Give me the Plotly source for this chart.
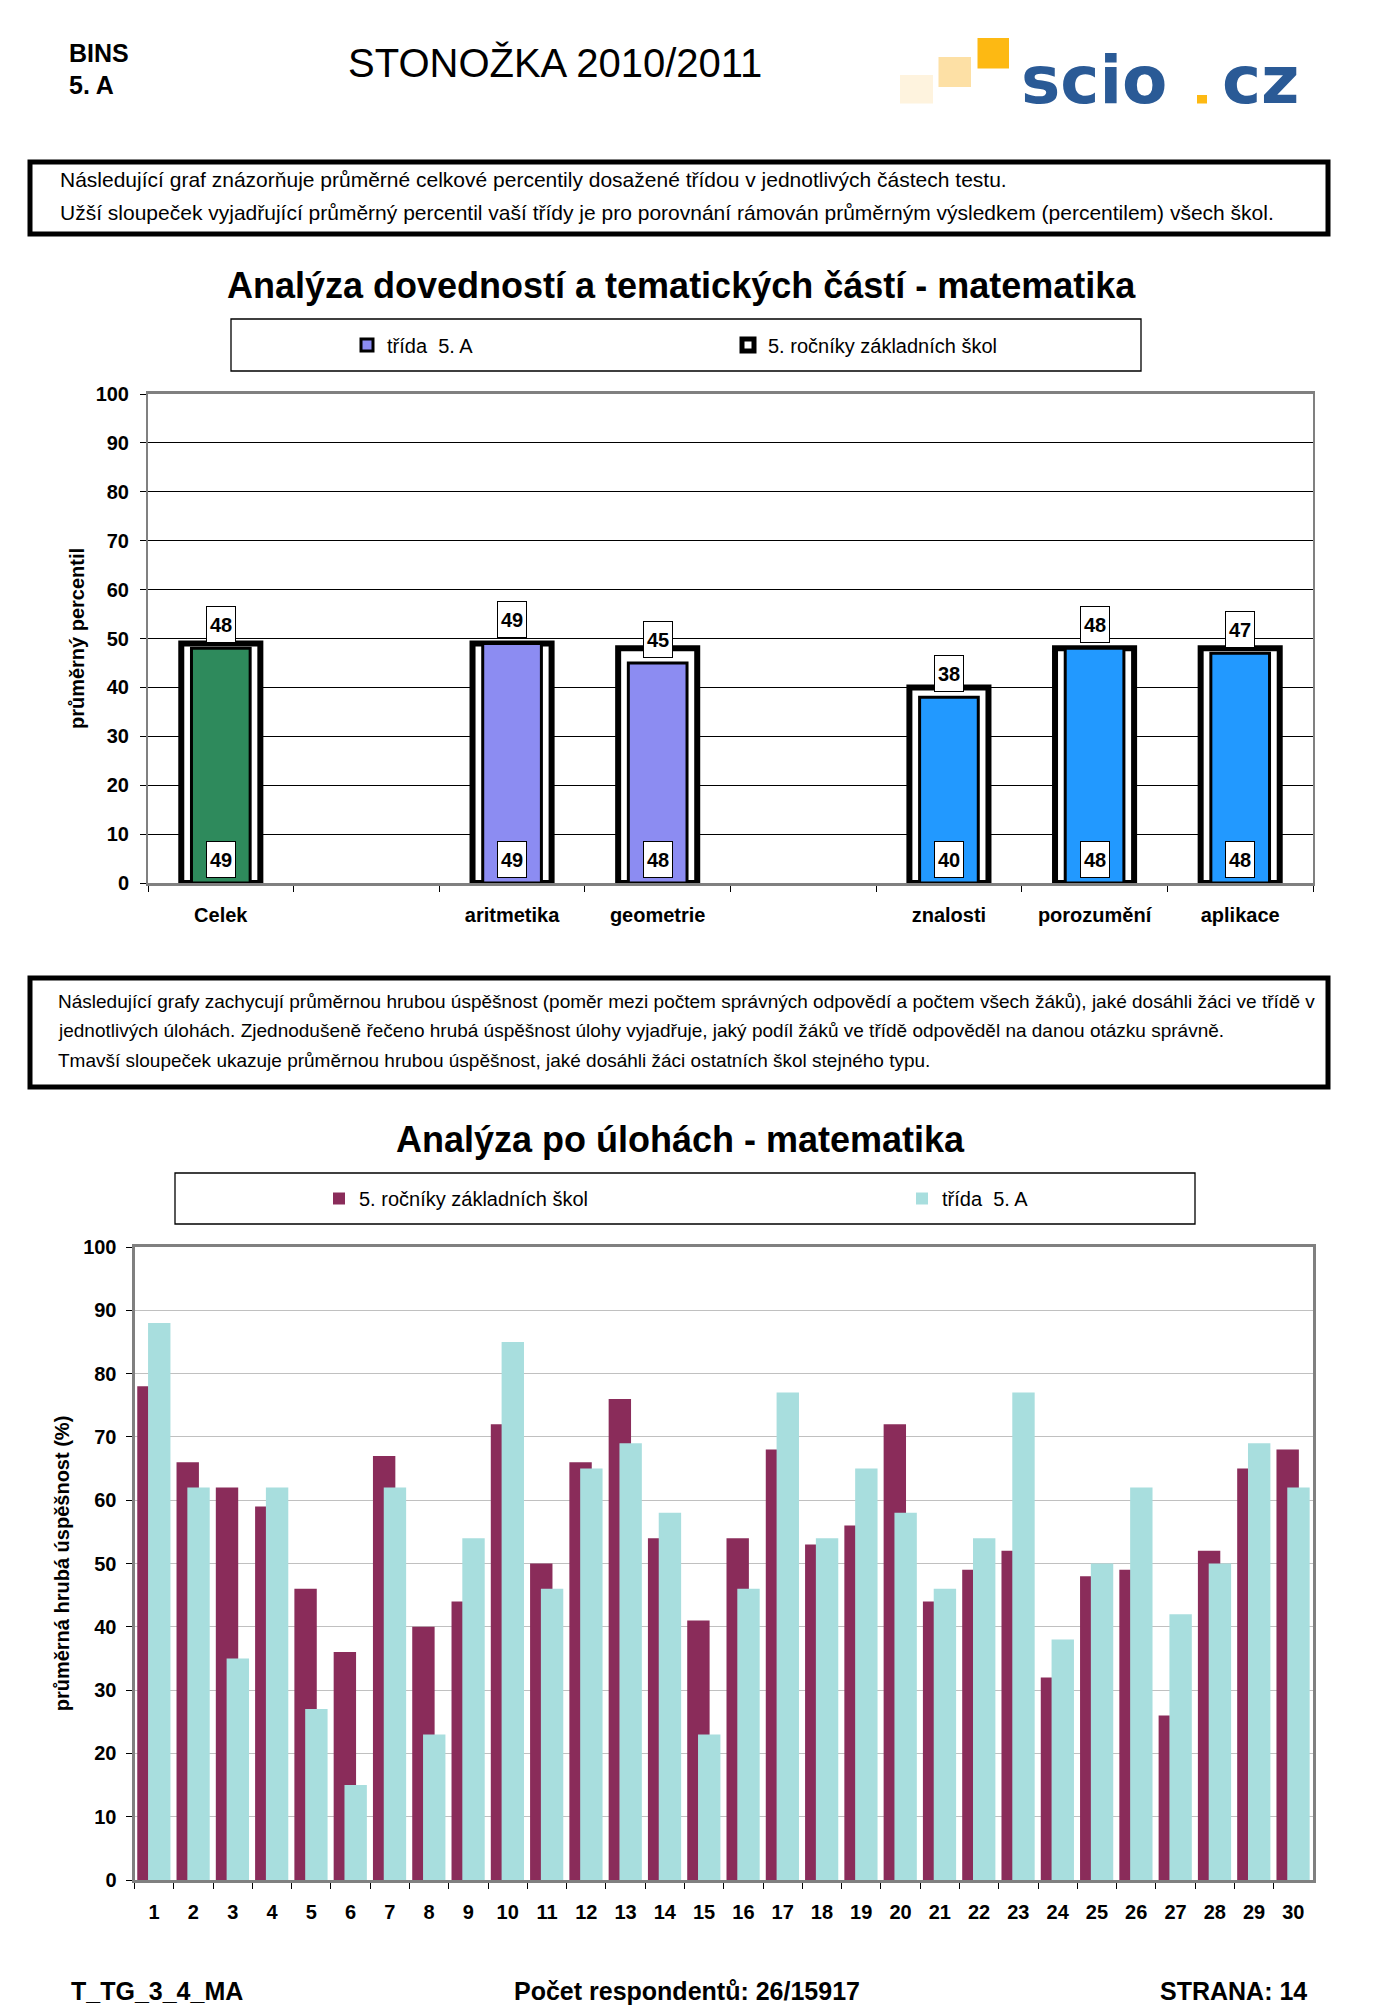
import plotly.graph_objects as go

W, H = 1396, 2016


def px(x):
    return x / W


def py(y):
    return 1 - y / H


# ---------------- data: chart 1 (skills) ----------------
skill_categories = ["Celek", " ", "aritmetika", "geometrie", "  ", "znalosti", "porozumění", "aplikace"]
class_percentile = [48, None, 49, 45, None, 38, 48, 47]
schools_percentile = [49, None, 49, 48, None, 40, 48, 48]
skill_colors = ["#2E8A5C", "#8C8CF2", "#8C8CF2", "#8C8CF2", "#8C8CF2", "#2299FF", "#2299FF", "#2299FF"]

# ---------------- data: chart 2 (tasks) ----------------
task_labels = ["1", "2", "3", "4", "5", "6", "7", "8", "9", "10",
               "11", "12", "13", "14", "15", "16", "17", "18", "19", "20",
               "21", "22", "23", "24", "25", "26", "27", "28", "29", "30"]
schools_success = [78, 66, 62, 59, 46, 36, 67, 40, 44, 72, 50, 66, 76, 54, 41,
                   54, 68, 53, 56, 72, 44, 49, 52, 32, 48, 49, 26, 52, 65, 68]
class_success = [88, 62, 35, 62, 27, 15, 62, 23, 54, 85, 46, 65, 69, 58, 23,
                 46, 77, 54, 65, 58, 46, 54, 77, 38, 50, 62, 42, 50, 69, 62]

name_class = "třída\u00a0 5. A"
name_schools = "5. ročníky základních škol"

FONT = "Liberation Sans, Arial, sans-serif"

fig = go.Figure()

# chart 1: outer frames (all schools)
fig.add_trace(go.Bar(
    x=skill_categories, y=schools_percentile, name=name_schools,
    width=0.543, marker=dict(color="white", line=dict(color="black", width=6)),
    xaxis="x", yaxis="y", legend="legend", legendrank=2,
))
# chart 1: inner bars (class) - overall
fig.add_trace(go.Bar(
    x=skill_categories[:1], y=class_percentile[:1], name=name_class,
    width=0.403, marker=dict(color=skill_colors[:1], line=dict(color="black", width=3)),
    xaxis="x", yaxis="y", legend="legend", showlegend=False, legendgroup="cls",
))
# chart 1: inner bars (class) - parts
fig.add_trace(go.Bar(
    x=skill_categories[1:], y=class_percentile[1:], name=name_class,
    width=0.403, marker=dict(color=skill_colors[1:], line=dict(color="black", width=3)),
    xaxis="x", yaxis="y", legend="legend", legendrank=1, legendgroup="cls",
))

# chart 2
fig.add_trace(go.Bar(
    x=task_labels, y=schools_success, name=name_schools,
    width=0.57, offset=-0.43, marker=dict(color="#8A2C5A", line=dict(width=0)),
    xaxis="x2", yaxis="y2", legend="legend2",
))
fig.add_trace(go.Bar(
    x=task_labels, y=class_success, name=name_class,
    width=0.57, offset=-0.155, marker=dict(color="#A8DEDE", line=dict(width=0)),
    xaxis="x2", yaxis="y2", legend="legend2",
))

annotations = []
shapes = []

# value labels chart 1
for cat, v_cls, v_sch in zip(skill_categories, class_percentile, schools_percentile):
    if v_cls is None:
        continue
    common = dict(xref="x", yref="y", showarrow=False, yanchor="bottom", yshift=5,
                  bgcolor="white", bordercolor="black", borderwidth=1, borderpad=1,
                  width=26, height=33, font=dict(family=FONT, size=20, color="black", weight="bold"))
    annotations.append(dict(x=cat, y=v_cls, text=str(v_cls), **common))
    annotations.append(dict(x=cat, y=0, text=str(v_sch), **common))


def txt(x, y, text, size, anchor="left", bold=False, family=FONT, color="black"):
    annotations.append(dict(
        xref="paper", yref="paper", x=px(x), y=py(y), text=text, showarrow=False,
        xanchor=anchor, yanchor="middle",
        font=dict(family=family, size=size, color=color, weight="bold" if bold else "normal"),
    ))


def rect(x0, y0, x1, y1, lw=1, color="black", fill=None):
    shapes.append(dict(
        type="rect", xref="paper", yref="paper", x0=px(x0), x1=px(x1), y0=py(y1), y1=py(y0),
        line=dict(color=color, width=lw), fillcolor=fill, layer="above",
    ))


# header
txt(67, 53, "BINS", 25, bold=True)
txt(67, 84.5, "5. A", 25, bold=True)
txt(555, 63, "STONOŽKA 2010/2011", 40, anchor="center")
# logo
rect(900, 75, 933, 103.5, lw=0, fill="#FEF3DE")
rect(938.5, 57, 971, 87, lw=0, fill="#FDE0A5")
rect(977.5, 38, 1009, 68.5, lw=0, fill="#FDB913")
rect(1197, 95, 1207, 103.5, lw=0, fill="#FDB913")
txt(1019, 81, "scio", 66, bold=True, family="DejaVu Sans, sans-serif", color="#2A5A96")
txt(1261, 81, "cz", 66, anchor="center", bold=True, family="DejaVu Sans, sans-serif", color="#2A5A96")

# text box 1
rect(30, 162, 1328, 234, lw=5)
txt(58, 179, "Následující graf znázorňuje průměrné celkové percentily dosažené třídou v jednotlivých částech testu.", 21)
txt(58, 213, "Užší sloupeček vyjadřující průměrný percentil vaší třídy je pro porovnání rámován průměrným výsledkem (percentilem) všech škol.", 21)

# chart 1 title + legend frame
txt(681, 286, "Analýza dovedností a tematických částí - matematika", 36, anchor="center", bold=True)
rect(231, 319, 1141, 371, lw=1.3)

# text box 2
rect(30, 978, 1328, 1087, lw=5)
txt(56, 1001, "Následující grafy zachycují průměrnou hrubou úspěšnost (poměr mezi počtem správných odpovědí a počtem všech žáků), jaké dosáhli žáci ve třídě v", 19)
txt(56, 1030.5, "jednotlivých úlohách. Zjednodušeně řečeno hrubá úspěšnost úlohy vyjadřuje, jaký podíl žáků ve třídě odpověděl na danou otázku správně.", 19)
txt(56, 1060, "Tmavší sloupeček ukazuje průměrnou hrubou úspěšnost, jaké dosáhli žáci ostatních škol stejného typu.", 19)

# chart 2 title + legend frame
txt(680, 1139, "Analýza po úlohách - matematika", 36, anchor="center", bold=True)
rect(175, 1173, 1195, 1224, lw=1.3)

# footer
txt(69, 1991, "T_TG_3_4_MA", 25, bold=True)
txt(687, 1991, "Počet respondentů: 26/15917", 25, anchor="center", bold=True)
txt(1309, 1991, "STRANA: 14", 25, anchor="right", bold=True)

tickfont = dict(family=FONT, size=20, color="black", weight="bold")
axis_common_x = dict(
    type="category", tickson="boundaries", ticks="outside", ticklen=6, tickcolor="black",
    showline=True, linecolor="#808080", linewidth=3, mirror=True, showgrid=False,
    tickfont=tickfont, ticklabelstandoff=12, fixedrange=True,
)
axis_common_y = dict(
    range=[0, 100], tick0=0, dtick=10, ticks="outside", ticklen=6, tickcolor="black",
    showline=True, linecolor="#808080", mirror=True, zeroline=False,
    tickfont=tickfont, fixedrange=True,
)

fig.update_layout(
    width=W, height=H,
    margin=dict(l=0, r=0, t=0, b=0, autoexpand=False),
    paper_bgcolor="white", plot_bgcolor="white",
    font=dict(family=FONT, color="black"),
    barmode="overlay",
    xaxis=dict(domain=[px(148), px(1313)], anchor="y", **axis_common_x),
    yaxis=dict(domain=[py(883), py(394)], anchor="x", linewidth=2, ticklabelstandoff=7,
               gridcolor="black", gridwidth=1,
               title=dict(text="průměrný percentil", standoff=6,
                          font=dict(family=FONT, size=20, weight="bold")),
               **axis_common_y),
    xaxis2=dict(domain=[px(134.5), px(1313)], anchor="y2", **axis_common_x),
    yaxis2=dict(domain=[py(1880), py(1247)], anchor="x2", linewidth=3, ticklabelstandoff=5,
                gridcolor="#C0C0C0", gridwidth=1,
                title=dict(text="průměrná hrubá úspěšnost (%)", standoff=9,
                           font=dict(family=FONT, size=20, weight="bold")),
                **axis_common_y),
    legend=dict(orientation="h", xref="paper", yref="paper",
                x=px(347), y=py(345), xanchor="left", yanchor="middle",
                entrywidth=336, font=dict(family=FONT, size=20, color="black"),
                bgcolor="rgba(0,0,0,0)", borderwidth=0),
    legend2=dict(orientation="h", xref="paper", yref="paper",
                 x=px(319), y=py(1198.5), xanchor="left", yanchor="middle",
                 entrywidth=538, font=dict(family=FONT, size=20, color="black"),
                 bgcolor="rgba(0,0,0,0)", borderwidth=0),
    annotations=annotations,
    shapes=shapes,
    showlegend=True,
)

fig.write_html("out.html")
